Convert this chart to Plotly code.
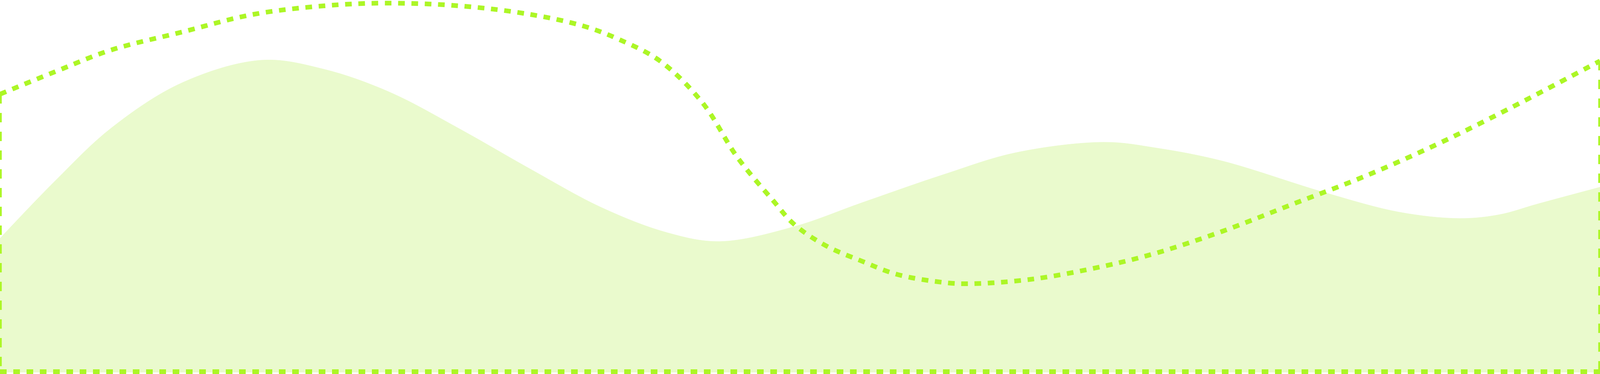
import plotly.graph_objects as go

# reference canvas is 5760 x 957; values are read in that pixel space (y grows downward)
canvas_w = 5760
canvas_h = 957

# soft filled wave
wave_x = [0, 200, 400, 655, 942, 1165, 1400, 1655, 1910, 2165, 2400, 2591, 2859,
          3102, 3400, 3655, 3974, 4165, 4400, 4770, 5038, 5255, 5400, 5535, 5760]
wave_y = [610, 462, 328, 212, 154, 177, 235, 330, 433, 531, 595, 618, 580,
          519, 446, 391, 364, 379, 412, 493, 543, 559, 549, 522, 479]
wave_floor = 953

# dashed outline: the wavy top edge
outline_x = [0, 200, 400, 655, 910, 1165, 1382, 1655, 1910, 2102, 2229, 2376, 2528,
             2655, 2783, 2859, 2974, 3102, 3229, 3400, 3496, 3719, 3974, 4165, 4400,
             4655, 4910, 5165, 5400, 5760]
outline_y = [241, 183, 128, 82, 37, 15, 8, 15, 37, 67, 101, 156, 262,
             403, 513, 574, 629, 668, 702, 723, 726, 714, 681, 647, 592,
             522, 452, 372, 290, 156]

# dashed outline: straight sides and bottom
left_side_y = [241, 951]
right_side_y = [156, 951]
bottom_y = 951

lime = "#acf626"
fill_col = "#eafacd"

fig = go.Figure()

# floor of the wave, the fill runs down to it
fig.add_trace(go.Scatter(
    x=[0, canvas_w], y=[wave_floor, wave_floor], mode="lines",
    line=dict(width=0), hoverinfo="skip",
))
# filled wave
fig.add_trace(go.Scatter(
    x=wave_x, y=wave_y, mode="lines",
    line=dict(width=1, color=fill_col, shape="spline", smoothing=1, simplify=False),
    fill="tonexty", fillcolor=fill_col, hoverinfo="skip",
))

# outline sides (vertical) and bottom (horizontal)
fig.add_trace(go.Scatter(
    x=[0, 0], y=left_side_y, mode="lines",
    line=dict(color=lime, width=9, dash="24px,24px"), hoverinfo="skip",
))
fig.add_trace(go.Scatter(
    x=[canvas_w, canvas_w], y=right_side_y, mode="lines",
    line=dict(color=lime, width=9, dash="24px,24px"), hoverinfo="skip",
))
fig.add_trace(go.Scatter(
    x=[0, canvas_w], y=[bottom_y, bottom_y], mode="lines",
    line=dict(color=lime, width=12, dash="17px,17px"), hoverinfo="skip",
))

# wavy dashed top
fig.add_trace(go.Scatter(
    x=outline_x, y=outline_y, mode="lines",
    line=dict(color=lime, width=12, dash="17px,17px", shape="spline", smoothing=1),
    hoverinfo="skip",
))

fig.update_layout(
    margin=dict(l=0, r=0, t=0, b=0),
    paper_bgcolor="white", plot_bgcolor="white",
    showlegend=False,
    xaxis=dict(range=[0, canvas_w], visible=False, fixedrange=True),
    yaxis=dict(range=[canvas_h, 0], visible=False, fixedrange=True),
)

# fill the browser window exactly
js = """
document.body.style.margin = '0';
document.body.style.overflow = 'hidden';
Plotly.Plots.resize(document.getElementById('{plot_id}'));
"""
fig.write_html("out.html", default_width="100vw", default_height="100vh",
               config={"displayModeBar": False}, post_script=js)
